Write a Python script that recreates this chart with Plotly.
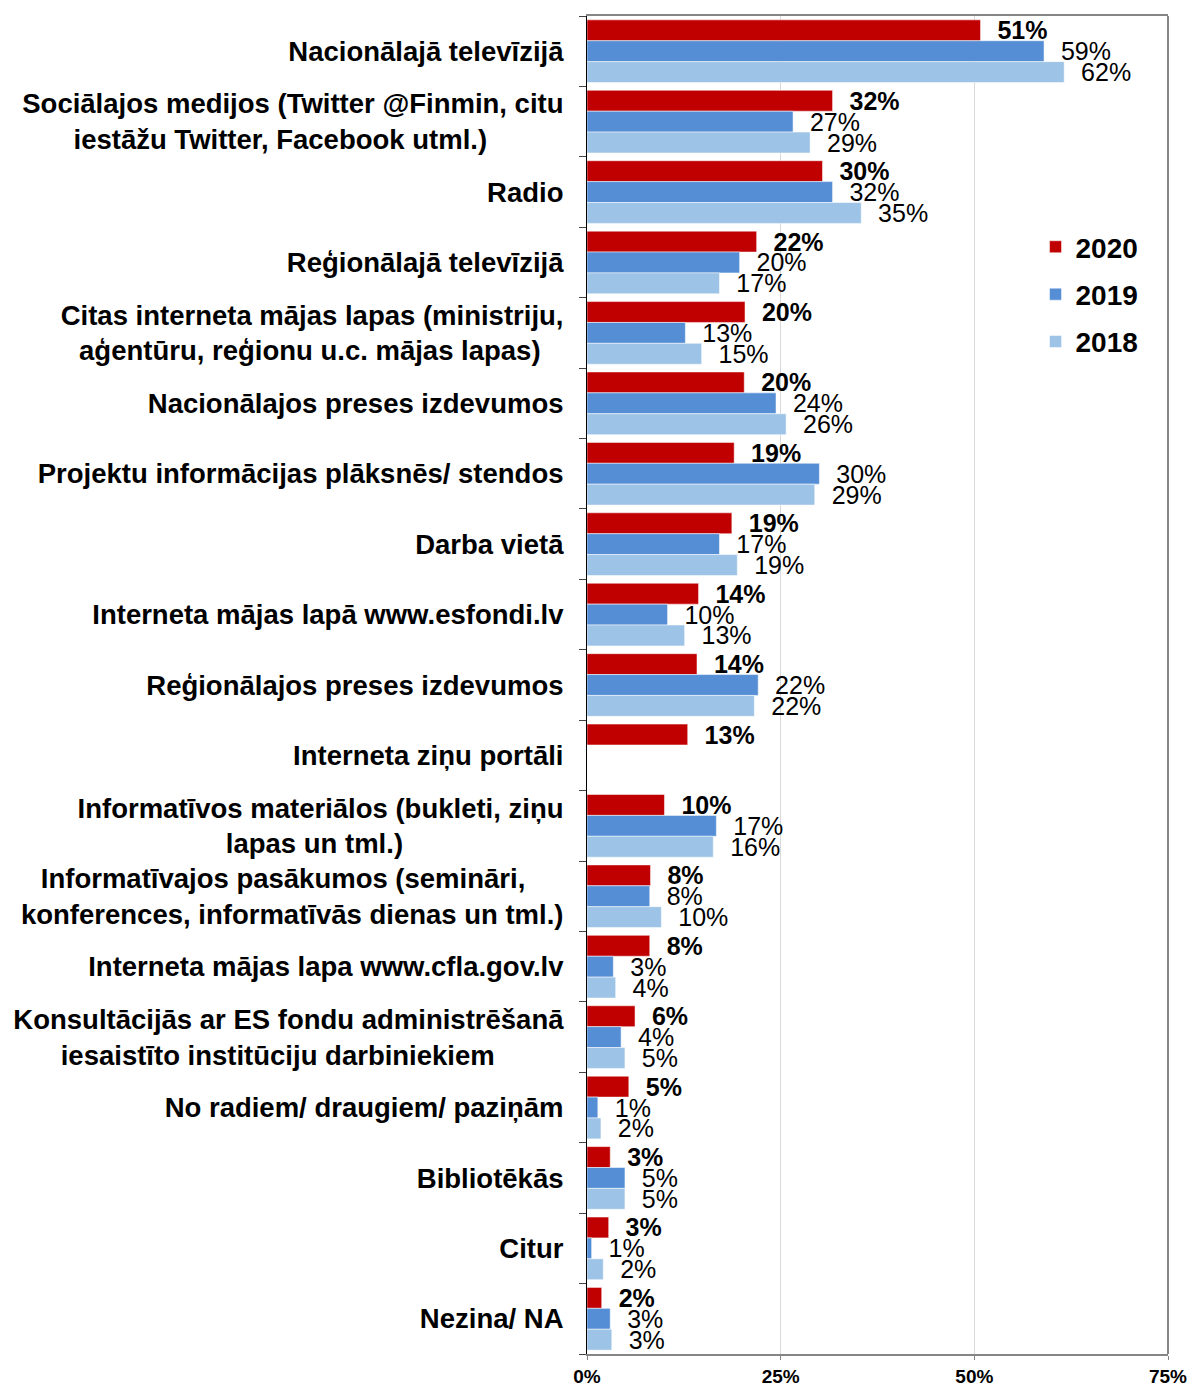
import plotly.graph_objects as go

# categories, top to bottom
categories = [
    "Nacionālajā televīzijā",
    "Sociālajos medijos (Twitter @Finmin, citu<br>iestāžu Twitter, Facebook utml.)",
    "Radio",
    "Reģionālajā televīzijā",
    "Citas interneta mājas lapas (ministriju,<br>aģentūru, reģionu u.c. mājas lapas)",
    "Nacionālajos preses izdevumos",
    "Projektu informācijas plāksnēs/ stendos",
    "Darba vietā",
    "Interneta mājas lapā www.esfondi.lv",
    "Reģionālajos preses izdevumos",
    "Interneta ziņu portāli",
    "Informatīvos materiālos (bukleti, ziņu<br>lapas un tml.)",
    "Informatīvajos pasākumos (semināri,<br>konferences, informatīvās dienas un tml.)",
    "Interneta mājas lapa www.cfla.gov.lv",
    "Konsultācijās ar ES fondu administrēšanā<br>iesaistīto institūciju darbiniekiem",
    "No radiem/ draugiem/ paziņām",
    "Bibliotēkās",
    "Citur",
    "Nezina/ NA",
]

# shares in %
values_2020 = [50.8, 31.7, 30.4, 21.9, 20.4, 20.3, 19.0, 18.7, 14.4, 14.2,
               13.0, 10.0, 8.2, 8.1, 6.2, 5.4, 3.0, 2.8, 1.9]
values_2019 = [59.0, 26.6, 31.7, 19.7, 12.7, 24.4, 30.0, 17.1, 10.4, 22.1,
               None, 16.7, 8.1, 3.4, 4.4, 1.4, 4.9, 0.6, 3.0]
values_2018 = [61.6, 28.8, 35.4, 17.1, 14.8, 25.7, 29.4, 19.4, 12.6, 21.6,
               None, 16.3, 9.6, 3.7, 4.9, 1.8, 4.9, 2.1, 3.2]

years = ["2020", "2019", "2018"]
colors = ["#C00000", "#558ED5", "#9DC3E6"]
x_ticks = [0, 25, 50, 75]

FONT = "Liberation Sans, Arial, sans-serif"
NB = "\u00a0"

# trailing no-break spaces per line so two-line labels look centred
line_pads = {1: [0, 10], 4: [0, 3], 11: [0, 21], 12: [5, 0], 14: [0, 9]}


def tick_label(i, label):
    lines = label.split("<br>")
    pads = line_pads.get(i, [0] * len(lines))
    return "<br>".join(l + NB * p for l, p in zip(lines, pads))


fig = go.Figure()
for year, vals, col in zip(years, [values_2020, values_2019, values_2018], colors):
    bold = year == "2020"
    tmpl = NB * 2 + ("<b>%{x:.0f}%</b>" if bold else "%{x:.0f}%")
    fig.add_trace(go.Bar(
        name=year,
        y=categories,
        x=vals,
        orientation="h",
        marker=dict(color=col, line=dict(color="rgba(255,255,255,0.5)", width=1)),
        texttemplate=tmpl,
        textposition="outside",
        constraintext="none",
        cliponaxis=False,
        outsidetextfont=dict(family=FONT, size=25, color="black"),
        legendgroup=year,
    ))

fig.update_layout(
    width=1193,
    height=1389,
    margin=dict(l=587, r=25, t=16, b=35),
    barmode="group",
    bargap=0.11,
    bargroupgap=0,
    plot_bgcolor="white",
    paper_bgcolor="white",
    font=dict(family=FONT, color="black"),
    legend=dict(
        x=0.772, y=0.846, xanchor="left", yanchor="top",
        font=dict(family=FONT, size=28, weight="bold"),
        traceorder="grouped",
        tracegroupgap=8,
        bgcolor="rgba(0,0,0,0)",
    ),
    xaxis=dict(
        range=[0, 75],
        tickvals=x_ticks,
        ticktext=[f"{t}%" for t in x_ticks],
        tickfont=dict(family=FONT, size=19, weight="bold"),
        ticklabelstandoff=0,
        automargin=False,
        showgrid=True,
        gridcolor="#D9D9D9",
        gridwidth=1,
        zeroline=False,
        showline=True,
        linecolor="#868686",
        linewidth=2,
        mirror=True,
        ticks="outside",
        ticklen=4,
        tickcolor="#868686",
    ),
    yaxis=dict(
        autorange="reversed",
        tickvals=categories,
        ticktext=[tick_label(i, c) for i, c in enumerate(categories)],
        tickfont=dict(family=FONT, size=27.5, weight="bold"),
        automargin=False,
        showline=True,
        linecolor="black",
        linewidth=1,
        mirror=False,
        ticks="outside",
        tickson="boundaries",
        ticklen=7,
        tickcolor="#444",
        ticklabelstandoff=17,
        showgrid=False,
    ),
)

# grey frame on the right side, like the Excel plot area border
fig.add_shape(type="line", xref="paper", yref="paper", x0=1, x1=1, y0=0, y1=1,
              line=dict(color="#868686", width=2))

fig.write_html("out.html", config={"displayModeBar": False},
               post_script="document.body.style.margin='0';")
